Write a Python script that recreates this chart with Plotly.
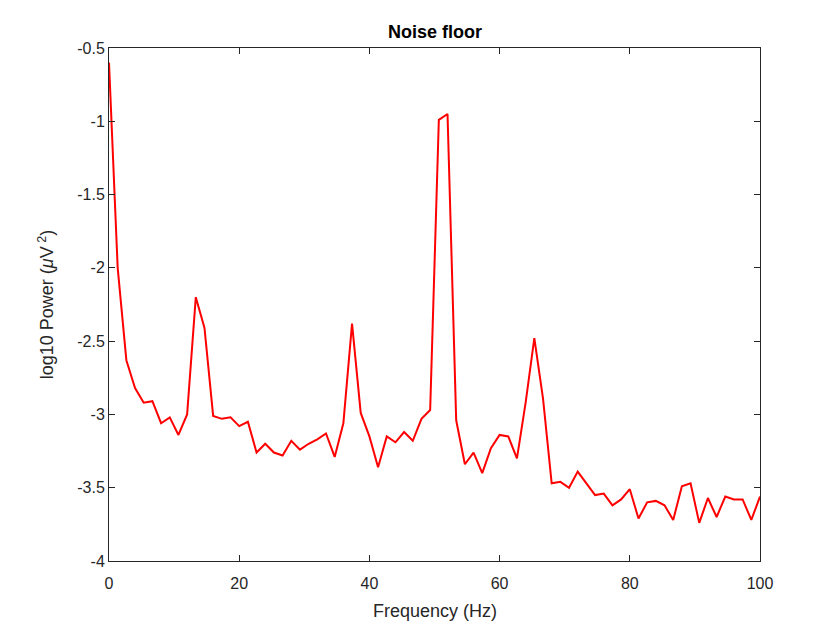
import plotly.graph_objects as go

freq_step = 4 / 3
power = [-0.60, -2.00, -2.63, -2.82, -2.92, -2.91, -3.06, -3.02, -3.14, -3.00,
         -2.20, -2.41, -3.01, -3.03, -3.02, -3.08, -3.05, -3.26, -3.20, -3.26,
         -3.28, -3.18, -3.24, -3.20, -3.17, -3.13, -3.29, -3.06, -2.38, -2.99,
         -3.15, -3.36, -3.15, -3.19, -3.12, -3.18, -3.03, -2.97, -0.99, -0.95,
         -3.04, -3.34, -3.26, -3.40, -3.23, -3.14, -3.15, -3.30, -2.92, -2.48,
         -2.89, -3.47, -3.46, -3.50, -3.39, -3.47, -3.55, -3.54, -3.62, -3.58,
         -3.51, -3.71, -3.60, -3.59, -3.62, -3.72, -3.49, -3.47, -3.74, -3.57,
         -3.70, -3.56, -3.58, -3.58, -3.72, -3.56]
freq = [i * freq_step for i in range(len(power))]

y_ticks = [-4, -3.5, -3, -2.5, -2, -1.5, -1, -0.5]
y_labels = ['-4', '-3.5', '-3', '-2.5', '-2', '-1.5', '-1', '-0.5']

fig = go.Figure()
fig.add_trace(go.Scatter(x=freq, y=power, mode='lines',
                         line=dict(color='#ff0000', width=2), showlegend=False))

axis_style = dict(showline=True, linecolor='#262626', linewidth=1, mirror='ticks',
                  ticks='inside', ticklen=6, tickcolor='#262626', showgrid=False,
                  zeroline=False, tickfont=dict(size=16, color='#262626'))
fig.update_xaxes(range=[0, 100], tickvals=[0, 20, 40, 60, 80, 100],
                 ticklabelstandoff=8, **axis_style)
fig.update_yaxes(range=[-4, -0.5], tickvals=y_ticks, ticktext=y_labels,
                 title=dict(text='log10 Power (<i>μ</i>V<sup> 2</sup>)', font=dict(size=18, color='#262626'),
                            standoff=18),
                 **axis_style)
fig.add_annotation(text='Frequency (Hz)', xref='paper', yref='paper', x=0.5, y=0,
                   yshift=-50, yanchor='middle', showarrow=False,
                   font=dict(size=18, color='#262626'))
fig.add_annotation(text='<b>Noise floor</b>', xref='paper', yref='paper', x=0.5, y=1,
                   yshift=16, yanchor='middle', showarrow=False,
                   font=dict(size=18, color='black'))
fig.update_layout(width=840, height=630, plot_bgcolor='white', paper_bgcolor='white',
                  margin=dict(l=101, r=88, t=40, b=77, autoexpand=False),
                  font=dict(family='Liberation Sans, Arial, sans-serif'))
fig.write_html("out.html")
